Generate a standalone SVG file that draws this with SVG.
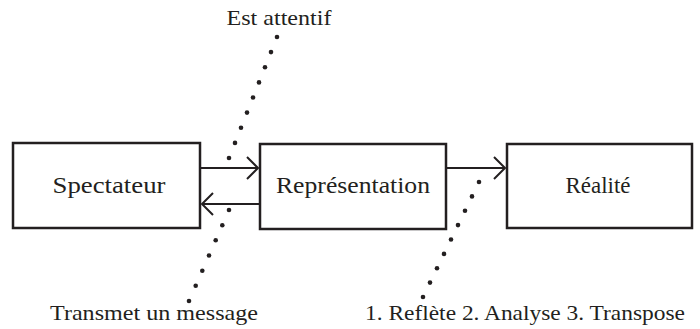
<svg xmlns="http://www.w3.org/2000/svg" width="700" height="329" viewBox="0 0 700 329">
<defs>
<style>
.box{fill:#fff;stroke:#231f20;stroke-width:2.5}
text{font-family:'Liberation Serif','Times New Roman','DejaVu Serif',serif;fill:#231f20;text-anchor:middle}
.lbl{font-size:23px}
.out{font-size:21px}
.conn{stroke:#231f20;stroke-width:2;fill:none}
.dot{fill:#231f20}
</style>
<marker id="ah" viewBox="0 0 14 24" refX="12" refY="12" markerWidth="14" markerHeight="24" markerUnits="userSpaceOnUse" orient="auto">
<path d="M1,1 L12,12 L1,23" fill="none" stroke="#231f20" stroke-width="2"/>
</marker>
</defs>
<g id="spectateur">
<rect class="box" x="13" y="143" width="187" height="85"/>
<text class="lbl" x="109" y="193" textLength="113" lengthAdjust="spacingAndGlyphs">Spectateur</text>
</g>
<g id="representation">
<rect class="box" x="260" y="144" width="186" height="85"/>
<text class="lbl" x="353" y="193" textLength="154" lengthAdjust="spacingAndGlyphs">Représentation</text>
</g>
<g id="realite">
<rect class="box" x="507" y="144" width="185" height="84"/>
<text class="lbl" x="598" y="193" textLength="65" lengthAdjust="spacingAndGlyphs">Réalité</text>
</g>
<g id="connectors">
<line class="conn" x1="200" y1="168" x2="258" y2="168" marker-end="url(#ah)"/>
<line class="conn" x1="260" y1="204" x2="202" y2="204" marker-end="url(#ah)"/>
<line class="conn" x1="446" y1="168" x2="505" y2="168" marker-end="url(#ah)"/>
</g>
<g id="dots-attentif" class="dot">
<circle cx="277" cy="37" r="2.3"/><circle cx="271" cy="52.1" r="2.3"/><circle cx="265" cy="67.3" r="2.3"/><circle cx="259" cy="82.4" r="2.3"/><circle cx="253" cy="97.5" r="2.3"/><circle cx="247" cy="112.6" r="2.3"/><circle cx="241" cy="127.8" r="2.3"/><circle cx="235" cy="142.9" r="2.3"/><circle cx="229" cy="158" r="2.3"/>
</g>
<g id="dots-message" class="dot">
<circle cx="229" cy="210" r="2.3"/><circle cx="222.3" cy="225.2" r="2.3"/><circle cx="215.7" cy="240.3" r="2.3"/><circle cx="209" cy="255.5" r="2.3"/><circle cx="202.3" cy="270.7" r="2.3"/><circle cx="195.7" cy="285.8" r="2.3"/><circle cx="189" cy="301" r="2.3"/>
</g>
<g id="dots-reflete" class="dot">
<circle cx="479" cy="182" r="2.3"/><circle cx="472" cy="196.4" r="2.3"/><circle cx="465" cy="210.8" r="2.3"/><circle cx="458" cy="225.1" r="2.3"/><circle cx="451" cy="239.5" r="2.3"/><circle cx="444" cy="253.9" r="2.3"/><circle cx="437" cy="268.3" r="2.3"/><circle cx="430" cy="282.6" r="2.3"/><circle cx="423" cy="297" r="2.3"/>
</g>
<g id="label-attentif"><text class="out" x="279" y="25" textLength="105" lengthAdjust="spacingAndGlyphs">Est attentif</text></g>
<g id="label-message"><text class="out" x="154" y="320" textLength="208" lengthAdjust="spacingAndGlyphs">Transmet un message</text></g>
<g id="label-reflete"><text class="out" x="525" y="320" textLength="320" lengthAdjust="spacingAndGlyphs">1. Reflète 2. Analyse 3. Transpose</text></g>
</svg>
